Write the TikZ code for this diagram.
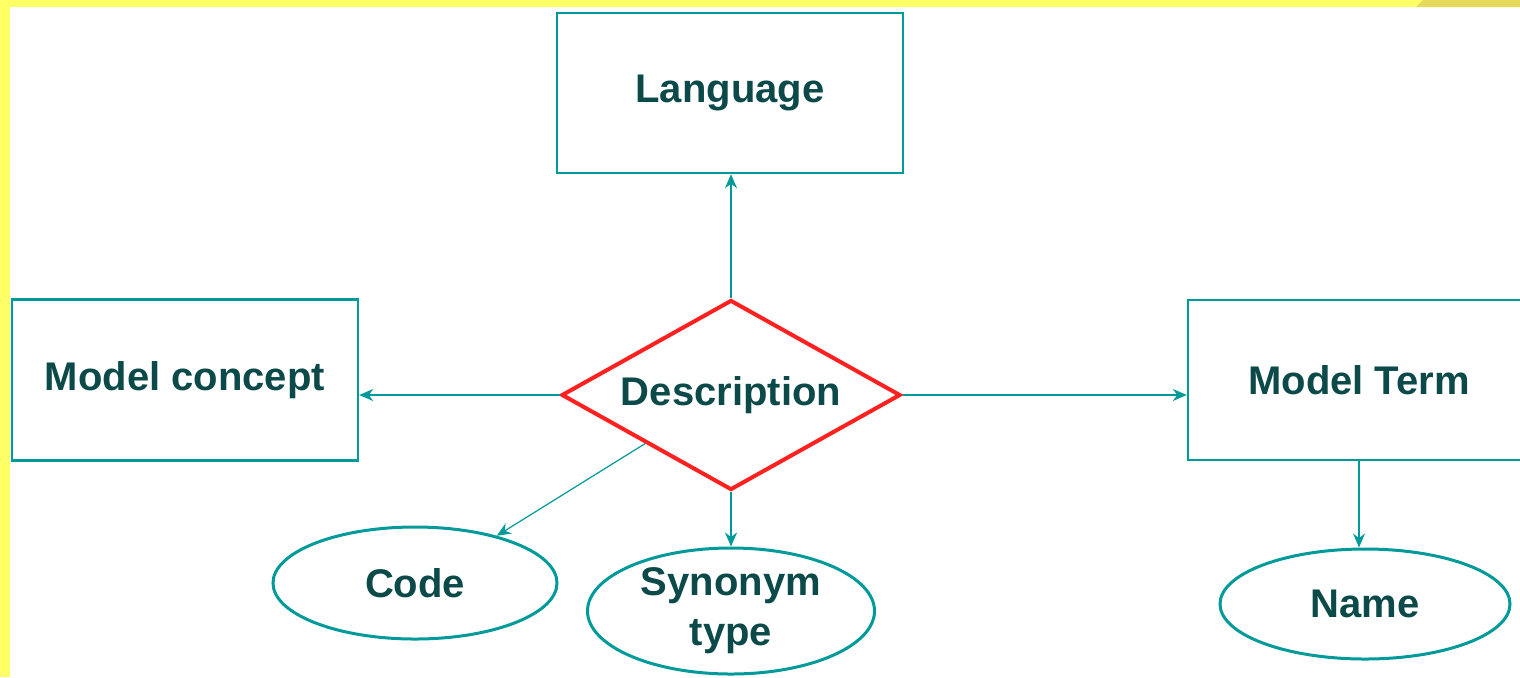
\documentclass[tikz,border=0pt]{standalone}
\usepackage{fontspec}
\setmainfont{Liberation Sans}
\usetikzlibrary{shapes.geometric,arrows.meta}
\definecolor{frameyellow}{HTML}{FFFF66}
\definecolor{framedark}{HTML}{E6D95A}
\definecolor{linkteal}{HTML}{009A9A}
\definecolor{labelink}{HTML}{0C4A4A}
\definecolor{relred}{HTML}{FF2020}
\begin{document}
\begin{tikzpicture}[x=0.5pt,y=-0.5pt,
  label/.style={font=\fontsize{20}{25}\selectfont\bfseries, text=labelink, align=center},
  entity/.style={label, draw=linkteal, line width=1.2pt, rectangle, inner sep=0pt},
  attrib/.style={label, draw=linkteal, line width=1.5pt, ellipse, inner sep=0pt},
  relation/.style={label, draw=relred, line width=2pt, diamond, inner sep=0pt},
  link/.style={draw=linkteal, line width=1pt, -{Stealth[length=7pt,width=6pt]}}]
  % page and frame
  \useasboundingbox (0,0) rectangle (1520,677);
  \clip (0,0) rectangle (1520,677);
  \fill[white] (0,0) rectangle (1520,677);
  \fill[frameyellow] (0,0) rectangle (10,677);
  \fill[frameyellow] (0,0) rectangle (1520,7);
  \fill[framedark] (1416,7) -- (1423,0) -- (1520,0) -- (1520,7) -- cycle;

  % entities
  \node[entity, minimum width=173pt, minimum height=80pt] (lang) at (730,93) {Language};
  \node[entity, minimum width=173pt, minimum height=80.5pt] (concept) at (185,380) {Model concept};
  \node[entity, minimum width=171pt, minimum height=80pt] (term) at (1359,380) {Model Term};

  % relationship
  \node[relation, minimum width=169.5pt, minimum height=95pt, shape aspect=1.78] (desc) at (731,395) {Description};

  % attributes
  \node[attrib, minimum width=142pt, minimum height=56pt] (code) at (415,583) {Code};
  \node[attrib, minimum width=143.5pt, minimum height=63pt] (syn) at (731,611) {Synonym\\type};
  \node[attrib, minimum width=145pt, minimum height=55pt] (name) at (1365,604) {Name};

  % connectors
  \draw[link] (desc.north) -- (desc.north |- lang.south);
  \draw[link] (desc.west) -- (concept.east |- desc.west);
  \draw[link] (desc.east) -- (term.west |- desc.east);
  \draw[link] (desc.south) -- (syn.north);
  \draw[link, line width=0.6pt] (desc.south west) -- (code.30);
  \draw[link] (term.south) -- (term.south |- name.north);
\end{tikzpicture}
\end{document}
